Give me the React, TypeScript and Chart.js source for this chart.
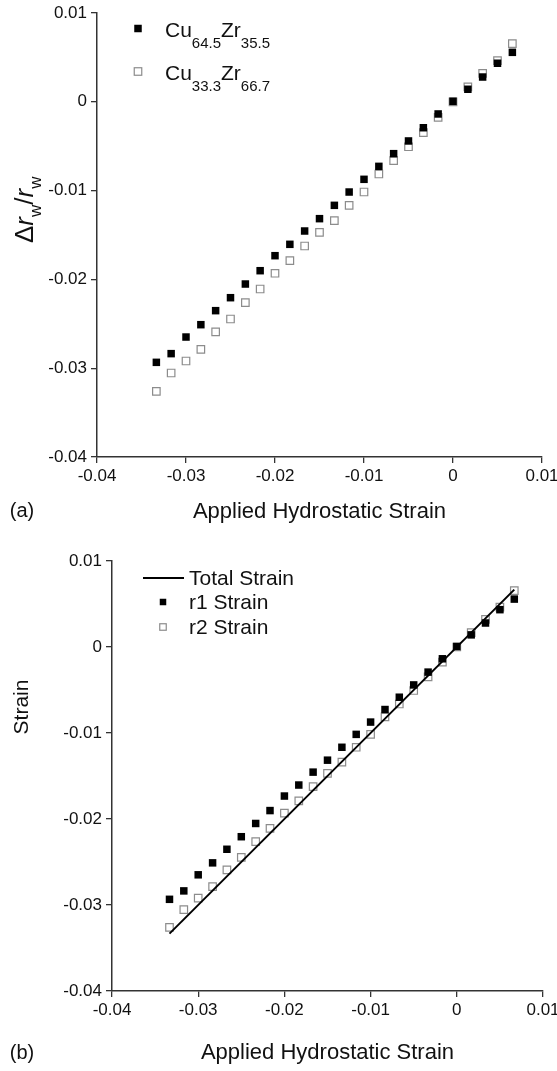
import React, { useEffect, useRef } from "react";
import { Chart, registerables } from "chart.js";
Chart.register(...registerables);

const FAMILY = "'Liberation Sans', Arial, Helvetica, sans-serif";

// Applied hydrostatic strain (x values shared by all series)
const strainX = [-0.03333, -0.03167, -0.03, -0.02833, -0.02667, -0.025, -0.02333, -0.02167, -0.02, -0.01833, -0.01667, -0.015, -0.01333, -0.01167, -0.01, -0.00833, -0.00667, -0.005, -0.00333, -0.00167, 0, 0.00167, 0.00333, 0.005, 0.00667];
// Cu64.5Zr35.5 (filled) — also r1 Strain
const cu645Y = [-0.02934, -0.02836, -0.02649, -0.0251, -0.02352, -0.02206, -0.02052, -0.01902, -0.01733, -0.01605, -0.01455, -0.01316, -0.01166, -0.01016, -0.00873, -0.00727, -0.00584, -0.00441, -0.00292, -0.00137, 0.00006, 0.00141, 0.00279, 0.00434, 0.00557];
// Cu33.3Zr66.7 (open) — also r2 Strain
const cu333Y = [-0.0326, -0.03054, -0.02919, -0.02787, -0.02592, -0.02446, -0.02262, -0.02108, -0.01931, -0.01789, -0.01624, -0.0147, -0.01339, -0.01166, -0.01016, -0.00813, -0.00663, -0.00506, -0.00348, -0.00175, 0.0, 0.00167, 0.00321, 0.00463, 0.00655];
// Total strain line
const totalX = [-0.03333, 0.00667];
const totalY = [-0.03333, 0.00667];
// Tick values for both axes
const tickValues = [-0.04, -0.03, -0.02, -0.01, 0, 0.01];

const seriesNamesA = ["Cu64.5Zr35.5", "Cu33.3Zr66.7"];
const legendPartsA = [
  [["Cu", 0], ["64.5", 1], ["Zr", 0], ["35.5", 1]],
  [["Cu", 0], ["33.3", 1], ["Zr", 0], ["66.7", 1]],
];
const seriesNamesB = ["Total Strain", "r1 Strain", "r2 Strain"];
const xTitle = "Applied Hydrostatic Strain";
const yTitleB = "Strain";

type Run = { t: string; size: number; dy: number; italic?: boolean };

function drawRuns(ctx: CanvasRenderingContext2D, x: number, y: number, runs: Run[]) {
  let cx = x;
  for (const r of runs) {
    ctx.font = `${r.italic ? "italic " : ""}${r.size}px ${FAMILY}`;
    ctx.fillText(r.t, cx, y + r.dy);
    cx += ctx.measureText(r.t).width;
  }
  return cx;
}

const fmt = (v: any) => {
  const n = Math.round(Number(v) * 100) / 100;
  return n === 0 ? "0" : String(n);
};

function axes(yWidth: number, xHeight: number, titlePadBottom: number) {
  return {
    x: {
      type: "linear",
      min: -0.04,
      max: 0.01,
      afterBuildTicks: (axis: any) => {
        axis.ticks = tickValues.map((value) => ({ value }));
      },
      afterFit: (s: any) => {
        s.height = xHeight;
        s.paddingLeft = 0;
        s.paddingRight = 0;
      },
      ticks: { font: { family: FAMILY, size: 17 }, color: "#111", padding: 3, callback: fmt, maxRotation: 0, autoSkip: false },
      grid: { drawOnChartArea: false, drawTicks: true, tickLength: 6, color: "#333", lineWidth: 1.3 },
      border: { display: true, color: "#333", width: 1.5 },
      title: { display: true, text: xTitle, font: { family: FAMILY, size: 22 }, color: "#111", padding: { top: 0, bottom: titlePadBottom } },
    },
    y: {
      type: "linear",
      min: -0.04,
      max: 0.01,
      afterBuildTicks: (axis: any) => {
        axis.ticks = tickValues.map((value) => ({ value }));
      },
      afterFit: (s: any) => {
        s.width = yWidth;
        s.paddingTop = 0;
        s.paddingBottom = 0;
      },
      ticks: { font: { family: FAMILY, size: 17 }, color: "#111", padding: 4, callback: fmt, autoSkip: false },
      grid: { drawOnChartArea: false, drawTicks: true, tickLength: 6, color: "#333", lineWidth: 1.3 },
      border: { display: true, color: "#333", width: 1.5 },
    },
  };
}

function pts(xs: number[], ys: number[]) {
  return xs.map((x, i) => ({ x, y: ys[i] }));
}

const filledStyle = { pointStyle: "rect", pointRadius: 5.3, backgroundColor: "#000", borderColor: "#000", borderWidth: 0, showLine: false };
const openStyle = { pointStyle: "rect", pointRadius: 5.3, backgroundColor: "#fff", borderColor: "#8c8c8c", borderWidth: 1.2, showLine: false };

function drawSquare(ctx: CanvasRenderingContext2D, x: number, y: number, side: number, filled: boolean) {
  ctx.save();
  if (filled) {
    ctx.fillStyle = "#000";
    ctx.fillRect(x - side / 2, y - side / 2, side, side);
  } else {
    ctx.fillStyle = "#fff";
    ctx.strokeStyle = "#8c8c8c";
    ctx.lineWidth = 1.2;
    ctx.fillRect(x - side / 2, y - side / 2, side, side);
    ctx.strokeRect(x - side / 2, y - side / 2, side, side);
  }
  ctx.restore();
}

const annotA = {
  id: "annotA",
  afterDraw(chart: any) {
    const ctx: CanvasRenderingContext2D = chart.ctx;
    ctx.save();
    ctx.fillStyle = "#111";
    ctx.textAlign = "left";
    ctx.textBaseline = "alphabetic";
    // legend
    const rows = [37, 80];
    legendPartsA.forEach((parts, i) => {
      drawSquare(ctx, 138, rows[i] - 8.5, 7.5, i === 0);
      ctx.fillStyle = "#111";
      drawRuns(
        ctx,
        165,
        rows[i],
        parts.map(([t, sub]) => ({ t: t as string, size: sub ? 15 : 21, dy: sub ? 11 : 0 }))
      );
    });
    // y title (rotated)
    ctx.save();
    ctx.translate(33, 243);
    ctx.rotate(-Math.PI / 2);
    drawRuns(ctx, 0, 0, [
      { t: "\u0394", size: 26, dy: 0 },
      { t: "r", size: 26, dy: 0, italic: true },
      { t: "w", size: 17, dy: 8 },
      { t: "/", size: 26, dy: 0 },
      { t: "r", size: 26, dy: 0, italic: true },
      { t: "w", size: 17, dy: 8 },
    ]);
    ctx.restore();
    // panel label
    ctx.font = `20px ${FAMILY}`;
    ctx.textBaseline = "middle";
    ctx.textAlign = "center";
    ctx.fillText("(a)", 22, 511);
    ctx.restore();
  },
};

const annotB = {
  id: "annotB",
  afterDraw(chart: any) {
    const ctx: CanvasRenderingContext2D = chart.ctx;
    ctx.save();
    ctx.fillStyle = "#111";
    ctx.textAlign = "left";
    ctx.textBaseline = "middle";
    ctx.font = `21px ${FAMILY}`;
    // legend
    ctx.strokeStyle = "#000";
    ctx.lineWidth = 2;
    ctx.beginPath();
    ctx.moveTo(143, 43);
    ctx.lineTo(184, 43);
    ctx.stroke();
    ctx.fillText(seriesNamesB[0], 189, 44);
    drawSquare(ctx, 163, 67, 6.5, true);
    ctx.fillStyle = "#111";
    ctx.fillText(seriesNamesB[1], 189, 68);
    drawSquare(ctx, 163, 92, 6.5, false);
    ctx.fillStyle = "#111";
    ctx.fillText(seriesNamesB[2], 189, 93);
    // y title
    ctx.save();
    ctx.translate(22, 172);
    ctx.rotate(-Math.PI / 2);
    ctx.textAlign = "center";
    ctx.fillText(yTitleB, 0, 0);
    ctx.restore();
    // panel label
    ctx.font = `20px ${FAMILY}`;
    ctx.textAlign = "center";
    ctx.fillText("(b)", 22, 518);
    ctx.restore();
  },
};

export default function App() {
  const refA = useRef<HTMLCanvasElement>(null);
  const refB = useRef<HTMLCanvasElement>(null);

  useEffect(() => {
    const chartA = new Chart(refA.current as HTMLCanvasElement, {
      type: "scatter",
      data: {
        datasets: [
          { label: seriesNamesA[0], data: pts(strainX, cu645Y), ...filledStyle } as any,
          { label: seriesNamesA[1], data: pts(strainX, cu333Y), ...openStyle } as any,
        ],
      },
      options: {
        animation: false,
        responsive: false,
        devicePixelRatio: 1,
        layout: { padding: { top: 13, right: 15, left: 0, bottom: 0 } },
        plugins: { legend: { display: false }, tooltip: { enabled: false } },
        scales: axes(97, 78, 9.8) as any,
      },
      plugins: [annotA],
    });
    const chartB = new Chart(refB.current as HTMLCanvasElement, {
      type: "scatter",
      data: {
        datasets: [
          { label: seriesNamesB[0], data: pts(totalX, totalY), showLine: true, pointRadius: 0, borderColor: "#000", borderWidth: 2, backgroundColor: "#000" } as any,
          { label: seriesNamesB[1], data: pts(strainX, cu645Y), ...filledStyle } as any,
          { label: seriesNamesB[2], data: pts(strainX, cu333Y), ...openStyle } as any,
        ],
      },
      options: {
        animation: false,
        responsive: false,
        devicePixelRatio: 1,
        layout: { padding: { top: 26, right: 14, left: 0, bottom: 0 } },
        plugins: { legend: { display: false }, tooltip: { enabled: false } },
        scales: axes(112, 80, 4.8) as any,
      },
      plugins: [annotB],
    });
    return () => {
      chartA.destroy();
      chartB.destroy();
    };
  }, []);

  return (
    <div style={{ position: "absolute", left: 0, top: 0, width: 557, height: 1071, background: "#fff", overflow: "hidden" }}>
      <canvas ref={refA} width={557} height={535} style={{ position: "absolute", left: 0, top: 0, display: "block" }} />
      <canvas ref={refB} width={557} height={536} style={{ position: "absolute", left: 0, top: 535, display: "block" }} />
    </div>
  );
}
